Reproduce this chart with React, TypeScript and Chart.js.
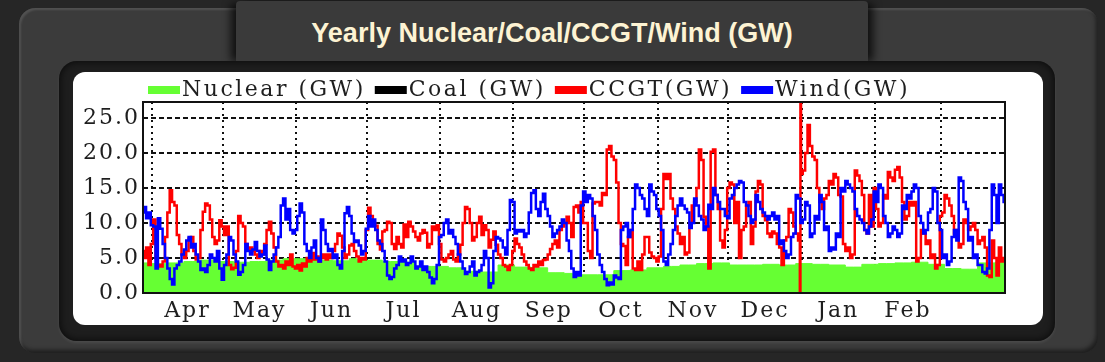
import React, { useEffect, useRef } from 'react';
import { Chart, registerables } from 'chart.js';

Chart.register(...registerables);

// Day 0 = 1 April. Daily series start at FIRST_DAY.
const FIRST_DAY = -4;
const X_MIN = -3.8;
const X_MAX = 361.1;
const Y_MAX = 27.3;

const monthLabels = ['Apr', 'May', 'Jun', 'Jul', 'Aug', 'Sep', 'Oct', 'Nov', 'Dec', 'Jan', 'Feb'];
const monthStartDays = [0, 30, 61, 91, 122, 153, 183, 214, 244, 275, 306, 334];
const yTickValues = [0, 5, 10, 15, 20, 25];

const nuclearDays = [
  -4, 3, 10, 17, 24, 31, 38, 45, 52, 59, 66, 73, 80, 87, 94, 101, 108, 115, 122, 129, 136, 143, 150, 157, 164, 171,
  178, 185, 192, 199, 206, 213, 220, 227, 234, 241, 248, 255, 262, 269, 276, 283, 290, 297, 304, 311, 318, 325, 332,
  339, 346, 353, 361,
];
const nuclearGW = [
  4.3, 4.2, 4.3, 4.5, 4.7, 4.5, 4.4, 4.5, 4.7, 4.9, 4.9, 4.7, 4.6, 4.9, 4.7, 4.5, 4.4, 3.8, 3.8, 3.6, 3.1, 3.0, 4.0,
  3.7, 3.6, 2.9, 2.8, 2.6, 2.6, 3.2, 3.3, 3.6, 3.8, 4.0, 4.2, 4.3, 4.0, 4.0, 4.1, 4.0, 4.2, 4.1, 4.0, 3.7, 4.1, 4.2,
  4.3, 4.4, 4.1, 3.5, 3.4, 4.3, 4.4,
];

const coalGW: number[] = [];

const ccgtGW = [
  6, 5, 6.5, 4, 7, 10.5, 5, 4, 3.8, 4.5,
  8, 11.5, 14.7, 13, 12.5, 8.3, 7, 5.5, 5, 6,
  7.8, 8, 6, 4.8, 5, 9, 11.6, 12.8, 12.5, 10.5,
  8, 7, 7.5, 10.4, 9.5, 8.3, 9.5, 4, 3.4, 3.6,
  6, 11, 10, 9.5, 7, 6.3, 6.5, 6, 5.5, 5,
  6, 5.5, 7, 9, 10.2, 8.5, 6.5, 4.5, 3.8, 4,
  3.5, 4.5, 4, 5.5, 3.8, 3.5, 4, 3.2, 4.2, 3.8,
  5, 4.5, 5.7, 4.8, 5.2, 4.5, 5, 5.5, 4.8, 5.5,
  5, 6, 7, 8.5, 8.2, 6.5, 5, 5.5, 6.8, 7,
  6, 5.2, 4.5, 5, 4.8, 9, 12.2, 11, 10, 9.6,
  7, 6.2, 8.8, 9, 10.2, 10, 7, 6.3, 8, 7,
  6.5, 9.8, 8, 10.2, 9.5, 8.8, 8, 7.5, 8.5, 9,
  8.6, 6.5, 7, 9.5, 9, 9.7, 7, 4.8, 4.5, 5,
  5.5, 6, 4.8, 4.5, 5.5, 6.9, 10, 12.3, 12, 10,
  7.5, 8, 10, 10.9, 8.3, 9.7, 9, 6.5, 7.6, 8.8,
  6.9, 5.5, 5, 4, 3.8, 3.3, 4, 6, 7.8, 7,
  6.5, 5.5, 4.5, 4, 3.5, 3.3, 4, 3.8, 4.5, 4,
  4.7, 4.8, 5.5, 6.3, 7, 7.5, 6.5, 9, 9.5, 10,
  10.9, 10, 8, 12.3, 12.5, 11.5, 13, 10, 10, 6,
  5, 12.8, 13, 13, 12.5, 14.3, 14, 20.5, 21, 19.5,
  19, 15.8, 10, 7, 6.7, 4, 8, 9, 3.5, 3.3,
  4.5, 3.3, 5.5, 8, 8, 5.8, 5.2, 5, 4.5, 5.2,
  12, 17, 16.3, 17, 13.5, 12, 9.5, 8.5, 7, 8,
  5.5, 5.8, 10, 12.5, 13, 15, 20.5, 19, 10.9, 9.5,
  3.5, 20.2, 20.5, 14, 12, 7.5, 6.5, 9, 15, 15.8,
  15.5, 10, 13, 5, 9, 9.5, 12.5, 13, 7, 9.5,
  14.5, 16, 15.5, 11, 10.4, 8.5, 8, 8.8, 8.5, 7,
  6.5, 4, 7.5, 8, 12, 11.5, 9.5, 8.5, 7.5, 17,
  17.5, 20, 24, 21, 19.5, 19, 15, 13, 12, 13.5,
  14, 16, 15.5, 17, 16.5, 14, 13.8, 7, 6, 6.5,
  5, 5.5, 17.5, 16.8, 16, 14, 9, 8.5, 14, 9.5,
  15, 12, 9.5, 10, 14, 13.5, 17.3, 16.5, 16, 17.6,
  18, 16.5, 13, 10.5, 11, 13, 12.5, 13, 4.5, 5,
  9, 8.5, 7, 7.5, 5, 5.5, 3.5, 4, 11, 11.5,
  14, 13.5, 12.5, 11, 8.5, 9, 6.5, 7, 10.5, 10,
  9, 9.5, 10, 9, 7, 7.5, 8, 6.5, 2.5, 2.3,
  7.5, 5, 2.5, 6.5, 4.5, 5,
];

// one-day data glitch in the CCGT feed around 1 January
const ccgtSpikeDays = [274.5, 274.5];
const ccgtSpikeGW = [0, 30];

const windGW = [
  11.5, 12.3, 10.7, 11.5, 9.7, 9.5, 3.5, 10.7, 9.2, 7,
  5, 3.5, 2, 1.2, 3.5, 4, 4.5, 5.5, 6.2, 7.5,
  8, 6.5, 7, 5.5, 4.5, 3.3, 3.5, 3, 4, 5.5,
  5, 4.5, 6, 3.5, 1.9, 4, 5.5, 8, 7.5, 5.5,
  4.5, 2.6, 3, 4, 7, 6, 5.5, 6.2, 7.3, 6,
  5.2, 5.5, 6.8, 4.8, 3.3, 4.5, 5.5, 6.5, 8, 12.5,
  13.5, 10.5, 12, 9, 8.5, 9, 11, 12.8, 11.5, 7,
  6, 5, 6.5, 7.5, 5, 4.5, 10.5, 9, 7, 6,
  6.3, 5, 5.5, 4, 3.5, 6, 11.4, 12.3, 11, 8.5,
  7.3, 7.5, 6.8, 5.5, 6, 9.2, 11, 9.5, 10.5, 9,
  7.5, 7, 6, 4.5, 2.5, 2, 2.3, 3.5, 4, 5.2,
  4.5, 4.8, 4, 4.3, 5.2, 4.5, 3.5, 3.8, 4.5, 3.3,
  3.8, 3, 2.2, 1.4, 2, 4, 8, 8.3, 10, 10.5,
  8.5, 9, 8, 7, 5.5, 4.5, 3.5, 2.7, 3, 3.8,
  4.5, 2.5, 3, 3.2, 4, 6, 5, 0.8, 1.4, 6,
  8, 7.8, 7.5, 6.5, 5.5, 9, 13.3, 13, 8.5, 9,
  8.8, 9, 8, 8.5, 11.5, 14.3, 14.7, 12, 11, 13,
  14.2, 12, 11, 9.5, 8, 8.5, 9, 9.5, 10.5, 10,
  7.5, 6, 3.5, 2.3, 3, 2.5, 12.5, 14.5, 13, 14,
  13.5, 11, 9, 5.5, 4, 3, 2, 1.1, 1.5, 1.2,
  2.5, 2.2, 2, 9, 9.5, 10, 8, 9, 12, 15.5,
  15, 14, 13.5, 12, 11, 15.5, 14.5, 14, 12, 11,
  9, 4.5, 4, 5.5, 7, 9, 11, 12.5, 13.5, 12.5,
  12, 11.5, 9.3, 10, 13.5, 12.5, 11, 10.5, 9, 9.5,
  12.6, 12, 15, 14, 13, 12, 12, 11, 10.7, 13.5,
  14, 15, 15.5, 16, 15.8, 13, 12.5, 11, 10, 10.5,
  14, 13, 12, 11.5, 11, 10.5, 11, 11.5, 10.5, 11,
  7, 7.5, 6, 5, 5.5, 8, 8.5, 14, 13.5, 10,
  10.5, 13, 12.5, 8, 8.5, 11, 10.5, 14, 13, 9,
  9.5, 6, 6.5, 6.2, 8.5, 8, 15, 14.5, 16, 15.5,
  15, 14.5, 12, 11, 10.5, 10, 9, 8.5, 9.5, 10.5,
  14.5, 13, 15.5, 15, 11, 10, 8, 8.5, 9.5, 9,
  8, 8.5, 12.5, 12, 14, 13.5, 14.5, 15.5, 15, 11,
  10, 8.5, 9, 11.5, 12, 15, 14.5, 10, 9, 5,
  5.5, 4, 4.5, 8, 9, 7.5, 16.5, 16, 13, 12,
  7.5, 8, 5, 5.5, 4, 4, 3, 2.8, 3.5, 9,
  15.5, 14, 10, 15.5, 14, 13,
];

const AXIS_FONT = '"DejaVu Serif", serif';
const TEXT_COLOR = '#1e1e1e';

function dailyPoints(values: number[]) {
  return values.map((v, i) => ({ x: FIRST_DAY + i, y: v }));
}

function buildCcgt() {
  const pts = dailyPoints(ccgtGW);
  const spike = ccgtSpikeDays.map((d, i) => ({ x: d, y: ccgtSpikeGW[i] }));
  const before = pts.filter((p) => p.x <= ccgtSpikeDays[0]);
  const after = pts.filter((p) => p.x > ccgtSpikeDays[0]);
  return [...before, ...spike, ...after];
}

const midMonthDays = monthLabels.map((_, i) => (monthStartDays[i] + monthStartDays[i + 1]) / 2);

const spacingPlugin = {
  id: 'letterSpacing',
  beforeDraw(chart: any) {
    chart.ctx.letterSpacing = '2px';
  },
  afterDraw(chart: any) {
    chart.ctx.letterSpacing = '0px';
  },
};

const plotBoxPlugin = {
  id: 'plotBox',
  afterDraw(chart: any) {
    const { left, top, right, bottom } = chart.chartArea;
    const ctx = chart.ctx;
    ctx.save();
    ctx.setLineDash([]);
    ctx.strokeStyle = '#111';
    ctx.lineWidth = 2;
    ctx.strokeRect(left, top, right - left, bottom - top);
    ctx.restore();
  },
};

const legendPlugin = {
  id: 'topLegend',
  afterDraw(chart: any) {
    const ctx = chart.ctx;
    ctx.save();
    ctx.letterSpacing = '2.5px';
    ctx.font = `22px ${AXIS_FONT}`;
    ctx.textBaseline = 'alphabetic';
    ctx.textAlign = 'left';
    let x = 75;
    chart.data.datasets.forEach((ds: any) => {
      ctx.fillStyle = ds.borderColor;
      ctx.fillRect(x, 14, 32, 8);
      ctx.fillStyle = TEXT_COLOR;
      ctx.fillText(ds.label, x + 34, 24);
      x += 34 + ctx.measureText(ds.label).width + 9;
    });
    ctx.restore();
  },
};

export default function App() {
  const ref = useRef<HTMLCanvasElement>(null);

  useEffect(() => {
    if (!ref.current) return;
    const chart = new Chart(ref.current, {
      type: 'line',
      data: {
        datasets: [
          {
            label: 'Nuclear (GW)',
            data: nuclearDays.map((d, i) => ({ x: d, y: nuclearGW[i] })),
            borderColor: '#66ff33',
            backgroundColor: '#66ff33',
            borderWidth: 1,
            fill: 'origin',
            pointRadius: 0,
            stepped: 'middle',
            order: 4,
          },
          {
            label: 'Coal (GW)',
            data: coalGW.map((v, i) => ({ x: FIRST_DAY + i, y: v })),
            borderColor: '#000000',
            borderWidth: 2,
            pointRadius: 0,
            fill: false,
            order: 3,
          },
          {
            label: 'CCGT(GW)',
            data: buildCcgt(),
            borderColor: '#ff0000',
            borderWidth: 2.5,
            pointRadius: 0,
            fill: false,
            stepped: 'middle',
            order: 2,
          },
          {
            label: 'Wind(GW)',
            data: dailyPoints(windGW),
            borderColor: '#0000ff',
            borderWidth: 2.5,
            pointRadius: 0,
            fill: false,
            stepped: 'middle',
            order: 1,
          },
        ] as any,
      },
      options: {
        animation: false,
        responsive: false,
        devicePixelRatio: 1,
        events: [],
        layout: { padding: { left: 0, right: 38, top: 30, bottom: 0 }, autoPadding: false } as any,
        plugins: {
          legend: { display: false },
          title: { display: false },
          tooltip: { enabled: false },
        },
        scales: {
          x: {
            type: 'linear',
            min: X_MIN,
            max: X_MAX,
            z: 1,
            afterBuildTicks: (scale: any) => {
              scale.ticks = [...monthStartDays, ...midMonthDays]
                .sort((a, b) => a - b)
                .map((v) => ({ value: v }));
            },
            afterFit: (scale: any) => {
              scale.height = 32;
            },
            ticks: {
              autoSkip: false,
              maxRotation: 0,
              padding: 5,
              color: TEXT_COLOR,
              font: { family: AXIS_FONT, size: 22 },
              callback: (value: any) => {
                const i = midMonthDays.indexOf(Number(value));
                return i >= 0 ? monthLabels[i] : '';
              },
            },
            grid: {
              drawTicks: false,
              lineWidth: 2,
              color: (ctx: any) =>
                ctx.tick && monthStartDays.includes(ctx.tick.value) ? '#111' : 'rgba(0,0,0,0)',
            },
            border: { display: false, dash: [2, 4] },
          } as any,
          y: {
            min: 0,
            max: Y_MAX,
            z: 1,
            afterBuildTicks: (scale: any) => {
              scale.ticks = yTickValues.map((v) => ({ value: v }));
            },
            afterFit: (scale: any) => {
              scale.width = 70;
            },
            ticks: {
              padding: 3,
              color: TEXT_COLOR,
              font: { family: AXIS_FONT, size: 22 },
              callback: (value: any) => Number(value).toFixed(1),
            },
            grid: {
              drawTicks: false,
              lineWidth: 2,
              color: (ctx: any) => (ctx.tick && ctx.tick.value === 0 ? 'rgba(0,0,0,0)' : '#111'),
            },
            border: { display: false, dash: [5, 3] },
          } as any,
        },
      },
      plugins: [spacingPlugin, plotBoxPlugin, legendPlugin],
    });
    return () => chart.destroy();
  }, []);

  return (
    <div
      style={{
        position: 'fixed',
        left: 0,
        top: 0,
        width: 1105,
        height: 362,
        background: '#262626',
        overflow: 'hidden',
      }}
    >
      <div
        style={{
          position: 'absolute',
          left: 19,
          top: 8,
          width: 1079,
          height: 345,
          borderRadius: 16,
          background: '#3b3b3b',
          boxShadow: 'inset 2px 2px 2px rgba(255,255,255,0.12), inset -2px -3px 4px rgba(0,0,0,0.5)',
        }}
      />
      <div
        style={{
          position: 'absolute',
          left: 236,
          top: 1,
          width: 632,
          height: 63,
          background: '#3a3a3a',
          borderRadius: '4px 4px 0 0',
          boxShadow: '-8px 0 8px -3px rgba(0,0,0,0.75), 8px 0 8px -3px rgba(0,0,0,0.75)',
        }}
      >
        <div
          style={{
            position: 'absolute',
            left: 0,
            right: 0,
            top: 19,
            lineHeight: '27px',
            textAlign: 'center',
            fontFamily: '"Liberation Sans", Arial, sans-serif',
            fontWeight: 'bold',
            fontSize: 27,
            color: '#fdf3d3',
            whiteSpace: 'nowrap',
          }}
        >
          Yearly Nuclear/Coal/CCGT/Wind (GW)
        </div>
      </div>
      <div
        style={{
          position: 'absolute',
          left: 59,
          top: 61,
          width: 996,
          height: 280,
          borderRadius: 18,
          background: '#1e1e1e',
          boxShadow: '0 2px 3px rgba(255,255,255,0.08), inset 0 0 8px rgba(0,0,0,0.8)',
        }}
      />
      <div
        style={{
          position: 'absolute',
          left: 73,
          top: 72,
          width: 970,
          height: 253,
          borderRadius: 12,
          background: '#ffffff',
          overflow: 'hidden',
        }}
      >
        <canvas ref={ref} width={970} height={253} style={{ display: 'block' }} />
      </div>
    </div>
  );
}
